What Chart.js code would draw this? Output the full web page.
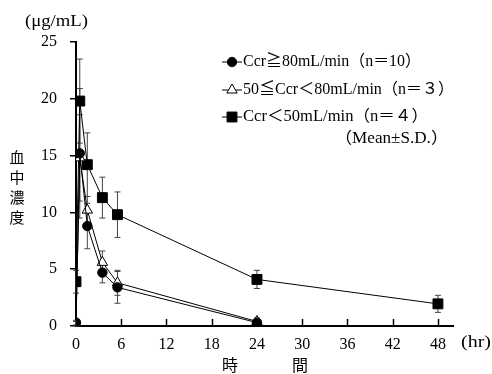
<!DOCTYPE html>
<html>
<head>
<meta charset="utf-8">
<script src="https://cdn.jsdelivr.net/npm/chart.js@4.4.1/dist/chart.umd.min.js"></script>
<style>
  html, body { margin: 0; padding: 0; background: #fff; }
  #wrap { width: 492px; height: 374px; position: relative; }
</style>
</head>
<body>
<div id="wrap"><canvas id="chart"></canvas></div>
<script>
// time points (hr)
const times = [0, 0.5, 1.5, 3.5, 5.5, 24, 48];
const xTicks = [0, 6, 12, 18, 24, 30, 36, 42, 48];
const yTicks = [0, 5, 10, 15, 20, 25];

// Ccr >= 80 (n=10)
const highMean = [0.3, 15.2, 8.8, 4.7, 3.4, 0.3];
const highSd = [0.2, 5.7, 2.0, 0.9, 1.4, 0.2];
// 50 <= Ccr < 80 (n=3)
const midMean = [0.2, 14.8, 10.2, 5.6, 3.8, 0.4];
const midSd = [0.2, 3.8, 1.2, 1.0, 1.1, 0.3];
// Ccr < 50 (n=4)
const lowMean = [3.9, 19.8, 14.2, 11.3, 9.8, 4.1, 1.95];
const lowSd = [1.0, 3.7, 2.8, 1.8, 2.0, 0.8, 0.75];

const labels = ['Ccr≧80mL/min（n＝10）', '50≦Ccr＜80mL/min（n＝３）', 'Ccr＜50mL/min（n＝４）'];

const serif = '"Liberation Serif", "Noto Sans CJK JP", serif';
const cjk = '"Noto Sans CJK JP", "Liberation Serif", serif';

function pts(vals, sd) {
  return vals.map((v, i) => ({ x: times[i], y: v, sd: sd[i] }));
}

// draw text squeezed/stretched to a given width
function fillWide(ctx, text, x, y, w) {
  const m = ctx.measureText(text).width;
  ctx.save();
  ctx.translate(x, y);
  ctx.scale(w / m, 1);
  ctx.textAlign = 'left';
  ctx.fillText(text, 0, 0);
  ctx.restore();
}

const errorBars = {
  id: 'errorBars',
  beforeDatasetsDraw(chart) {
    const ctx = chart.ctx;
    const xs = chart.scales.x, ys = chart.scales.y;
    ctx.save();
    ctx.strokeStyle = '#444';
    ctx.lineWidth = 1;
    chart.data.datasets.forEach(ds => {
      ds.data.forEach(p => {
        const px = xs.getPixelForValue(p.x);
        const top = ys.getPixelForValue(p.y + p.sd);
        const bot = ys.getPixelForValue(Math.max(0, p.y - p.sd));
        ctx.beginPath();
        ctx.moveTo(px, top); ctx.lineTo(px, bot);
        ctx.moveTo(px - 3, top); ctx.lineTo(px + 3, top);
        ctx.moveTo(px - 3, bot); ctx.lineTo(px + 3, bot);
        ctx.stroke();
      });
    });
    ctx.restore();
  }
};

const extras = {
  id: 'extras',
  afterDraw(chart) {
    const ctx = chart.ctx;
    const xs = chart.scales.x, ys = chart.scales.y;
    ctx.save();
    // inside x ticks
    ctx.strokeStyle = '#000';
    ctx.lineWidth = 1.5;
    xTicks.forEach(v => {
      if (v === 0) return;
      const px = Math.round(xs.getPixelForValue(v)) + 0.5;
      ctx.beginPath();
      ctx.moveTo(px, ys.bottom); ctx.lineTo(px, ys.bottom - 7);
      ctx.stroke();
    });
    ctx.fillStyle = '#000';
    ctx.font = '16px ' + serif;
    ctx.textBaseline = 'middle';
    fillWide(ctx, '(μg/mL)', 25, 22, 63);
    fillWide(ctx, '(hr)', 461, 343, 30);
    // vertical y title
    ctx.font = '15px ' + cjk;
    ctx.textAlign = 'center';
    ['血', '中', '濃', '度'].forEach((c, i) => ctx.fillText(c, 17, 157 + i * 20));
    ctx.font = '16px ' + cjk;
    ctx.fillText('時', 230, 365);
    ctx.fillText('間', 300, 365);
    // legend
    const rows = [62, 90, 117];
    const ends = [421, 454, 428];
    const styles = chart.data.datasets;
    rows.forEach((y, i) => {
      const ds = styles[i];
      ctx.strokeStyle = '#000';
      ctx.lineWidth = 1;
      ctx.beginPath();
      ctx.moveTo(222, y); ctx.lineTo(242, y);
      ctx.stroke();
      ctx.fillStyle = ds.pointBackgroundColor;
      ctx.beginPath();
      if (ds.pointStyle === 'circle') {
        ctx.arc(232, y, ds.pointRadius, 0, Math.PI * 2);
      } else if (ds.pointStyle === 'rect') {
        const h = ds.pointRadius * Math.SQRT1_2;
        ctx.rect(232 - h, y - h, 2 * h, 2 * h);
      } else {
        const r = ds.pointRadius;
        ctx.moveTo(232, y - r);
        ctx.lineTo(232 + r * Math.cos(Math.PI / 6), y + r / 2);
        ctx.lineTo(232 - r * Math.cos(Math.PI / 6), y + r / 2);
        ctx.closePath();
      }
      ctx.fill(); ctx.stroke();
      ctx.fillStyle = '#000';
      ctx.font = '16px ' + serif;
      fillWide(ctx, labels[i], 243, y, ends[i] - 243);
    });
    fillWide(ctx, '（Mean±S.D.）', 335, 139, 113);
    ctx.restore();
  }
};

new Chart(document.getElementById('chart'), {
  type: 'scatter',
  data: {
    datasets: [{
      label: labels[0],
      data: pts(highMean, highSd),
      showLine: true,
      borderColor: '#000',
      borderWidth: 1,
      pointStyle: 'circle',
      pointRadius: 4.7,
      pointBackgroundColor: '#000',
      pointBorderColor: '#000'
    }, {
      label: labels[1],
      data: pts(midMean, midSd),
      showLine: true,
      borderColor: '#000',
      borderWidth: 1,
      pointStyle: 'triangle',
      pointRadius: 6,
      pointBackgroundColor: '#fff',
      pointBorderColor: '#000',
      pointBorderWidth: 1
    }, {
      label: labels[2],
      data: pts(lowMean, lowSd),
      showLine: true,
      borderColor: '#000',
      borderWidth: 1,
      pointStyle: 'rect',
      pointRadius: 7,
      pointBackgroundColor: '#000',
      pointBorderColor: '#000'
    }]
  },
  options: {
    responsive: true,
    maintainAspectRatio: false,
    animation: false,
    layout: { padding: { left: 0, top: 42, right: 39, bottom: 0 } },
    plugins: { legend: { display: false }, tooltip: { enabled: false } },
    scales: {
      x: {
        type: 'linear',
        min: 0,
        max: 50,
        afterBuildTicks: s => { s.ticks = xTicks.map(v => ({ value: v })); },
        afterFit: s => { s.height = 48; },
        grid: { display: false, drawTicks: false },
        border: { color: '#000', width: 2 },
        ticks: { color: '#000', padding: 9, font: { family: serif, size: 16 }, maxRotation: 0 }
      },
      y: {
        min: 0,
        max: 25,
        afterBuildTicks: s => { s.ticks = yTicks.map(v => ({ value: v })); },
        afterFit: s => { s.width = 76; },
        grid: { drawOnChartArea: false, color: '#000', lineWidth: 1.5, tickLength: 6 },
        border: { color: '#000', width: 2 },
        ticks: { color: '#000', padding: 13, font: { family: serif, size: 16 } }
      }
    }
  },
  plugins: [errorBars, extras]
});
</script>
</body>
</html>
